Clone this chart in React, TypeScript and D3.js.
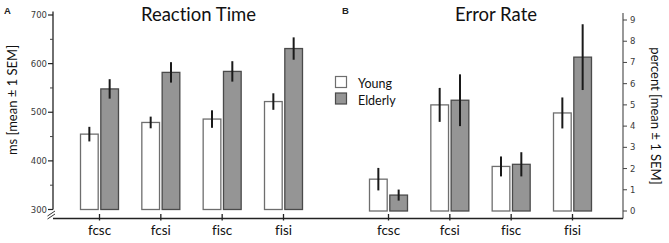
import React from "react";
import * as d3 from "d3";

const categories = ["fcsc", "fcsi", "fisc", "fisi"];
const groups = ["Young", "Elderly"];

const rtYoung = [455, 479, 486, 522];
const rtYoungSem = [15, 12, 18, 17];
const rtElderly = [548, 582, 584, 631];
const rtElderlySem = [20, 21, 21, 23];

const erYoung = [1.5, 5.0, 2.1, 4.62];
const erYoungSem = [0.53, 0.8, 0.47, 0.73];
const erElderly = [0.75, 5.22, 2.2, 7.25];
const erElderlySem = [0.26, 1.22, 0.57, 1.55];

const rtTicks = [300, 400, 500, 600, 700];
const rtMinor = [350, 450, 550, 650];
const erTicks = [0, 1, 2, 3, 4, 5, 6, 7, 8, 9];

const W = 669;
const H = 243;
const AXIS_Y = 218.5;

const FILL: Record<string, string> = { Young: "#ffffff", Elderly: "#959595" };
const STROKE: Record<string, string> = { Young: "#6e6e6e", Elderly: "#4a4a4a" };
const LBL = "Lato, 'Open Sans', sans-serif";
const NUM = "'DejaVu Sans', Verdana, sans-serif";

type PanelProps = {
  x: d3.ScalePoint<string>;
  y: d3.ScaleLinear<number, number>;
  young: number[];
  youngSem: number[];
  elderly: number[];
  elderlySem: number[];
  base: number;
};

function Bars({ x, y, young, youngSem, elderly, elderlySem, base }: PanelProps) {
  const inner = d3.scaleBand<string>().domain(groups).range([-19.5, 19.5]).paddingInner(0.08);
  const series: Record<string, [number[], number[]]> = {
    Young: [young, youngSem],
    Elderly: [elderly, elderlySem],
  };
  return (
    <g>
      {categories.map((c, i) => (
        <g key={c}>
          {groups.map((g) => {
            const v = series[g][0][i];
            const s = series[g][1][i];
            const bx = (x(c) as number) + (inner(g) as number);
            const bw = inner.bandwidth();
            const cx = bx + bw / 2;
            return (
              <g key={g}>
                <rect
                  x={bx + 0.5}
                  y={y(v)}
                  width={bw - 1}
                  height={y(base) - y(v)}
                  fill={FILL[g]}
                  stroke={STROKE[g]}
                  strokeWidth={1.3}
                />
                <line x1={cx} x2={cx} y1={y(v - s)} y2={y(v + s)} stroke="#1a1a1a" strokeWidth={2} />
              </g>
            );
          })}
        </g>
      ))}
    </g>
  );
}

export default function App() {
  const xL = d3.scalePoint<string>().domain(categories).range([99.5, 283.5]);
  const xR = d3.scalePoint<string>().domain(categories).range([388.5, 572.5]);
  const yL = d3.scaleLinear().domain([300, 700]).range([209.5, 15]);
  const yR = d3.scaleLinear().domain([0, 9]).range([211, 20]);
  const LX = 53;
  const RX = 623;

  return (
    <svg
      width={W}
      height={H}
      viewBox={`0 0 ${W} ${H}`}
      style={{ position: "absolute", left: 0, top: 0, background: "#fff", fontVariantLigatures: "none" }}
    >
      <rect width={W} height={H} fill="#fff" />
      {/* panel labels */}
      <text x={4} y={13.5} fontFamily="'Liberation Sans', Arial, sans-serif" fontWeight="bold" fontSize={9.5} fill="#222">A</text>
      <text x={342} y={14} fontFamily="'Liberation Sans', Arial, sans-serif" fontWeight="bold" fontSize={9.5} fill="#222">B</text>

      {/* titles */}
      <text x={198.5} y={21} textAnchor="middle" fontFamily={LBL} fontSize={18.5} fill="#111">Reaction Time</text>
      <text x={496} y={21} textAnchor="middle" fontFamily={LBL} fontSize={18.5} fill="#111">Error Rate</text>

      {/* left y axis */}
      <line x1={LX} x2={LX} y1={11.5} y2={yL(300)} stroke="#222" strokeWidth={1.3} />
      {rtTicks.map((t) => (
        <g key={t}>
          <line x1={LX - 5} x2={LX} y1={yL(t)} y2={yL(t)} stroke="#222" strokeWidth={1.2} />
          <text x={LX - 6} y={yL(t) + 3} textAnchor="end" fontFamily={NUM} fontSize={8.5} fill="#3a3a3a">{t}</text>
        </g>
      ))}
      {rtMinor.map((t) => (
        <line key={t} x1={LX - 3} x2={LX} y1={yL(t)} y2={yL(t)} stroke="#444" strokeWidth={1} />
      ))}
      {/* axis break */}
      <line x1={47.5} x2={55} y1={216} y2={211} stroke="#333" strokeWidth={1} />
      <line x1={47.5} x2={55} y1={219} y2={214} stroke="#333" strokeWidth={1} />

      {/* y label left */}
      <text
        transform={`translate(17,100) rotate(-90)`}
        textAnchor="middle"
        fontFamily={LBL}
        fontSize={13}
        fill="#111"
      >
        ms [mean ± 1 SEM]
      </text>

      {/* right y axis */}
      <line x1={RX} x2={RX} y1={13} y2={AXIS_Y} stroke="#444" strokeWidth={1.1} />
      {erTicks.map((t) => (
        <g key={t}>
          <line x1={RX} x2={RX + 4} y1={yR(t)} y2={yR(t)} stroke="#444" strokeWidth={1} />
          <text x={RX + 7} y={yR(t) + 3} textAnchor="start" fontFamily={NUM} fontSize={8.5} fill="#3a3a3a">{t}</text>
        </g>
      ))}
      <text
        transform={`translate(651,116) rotate(90)`}
        textAnchor="middle"
        fontFamily={LBL}
        fontSize={13}
        fill="#111"
      >
        percent [mean ± 1 SEM]
      </text>

      {/* bars */}
      <Bars x={xL} y={yL} young={rtYoung} youngSem={rtYoungSem} elderly={rtElderly} elderlySem={rtElderlySem} base={300} />
      <Bars x={xR} y={yR} young={erYoung} youngSem={erYoungSem} elderly={erElderly} elderlySem={erElderlySem} base={0} />

      {/* x axis */}
      <line x1={LX} x2={RX} y1={AXIS_Y} y2={AXIS_Y} stroke="#222" strokeWidth={1.3} />
      {[xL, xR].map((sx, k) =>
        categories.map((c) => (
          <g key={`${k}-${c}`}>
            <line x1={sx(c)} x2={sx(c)} y1={AXIS_Y - 4.5} y2={AXIS_Y + 2} stroke="#222" strokeWidth={1.3} />
            <text x={sx(c)} y={235} textAnchor="middle" fontFamily={LBL} fontSize={13.5} fill="#111" style={{ fontVariantLigatures: "none", fontFeatureSettings: "'liga' 0" }}>{c}</text>
          </g>
        ))
      )}

      {/* legend */}
      {groups.map((g, i) => (
        <g key={g}>
          <rect x={335.5} y={76.5 + i * 16.5} width={11} height={11} fill={FILL[g]} stroke={STROKE[g]} strokeWidth={1.2} />
          <text x={358} y={88 + i * 16.5} fontFamily={LBL} fontSize={12.5} fill="#111">{g}</text>
        </g>
      ))}
    </svg>
  );
}
